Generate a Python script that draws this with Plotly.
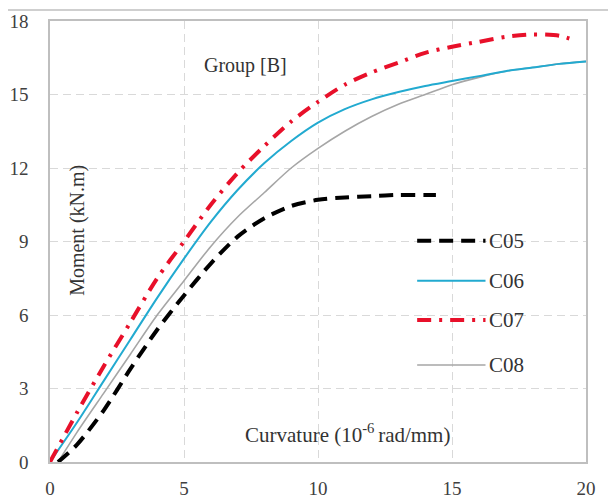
import plotly.graph_objects as go

# ---- data ----
x_c05 = [0.3, 1, 2, 3, 4, 5, 6, 7, 8, 9, 10, 11, 12, 13, 14, 14.4]
y_c05 = [0.0, 0.7, 2.1, 3.8, 5.4, 6.8, 8.1, 9.2, 9.95, 10.45, 10.7, 10.8, 10.85, 10.9, 10.9, 10.9]

x_c06 = [0, 1, 2, 3, 4, 5, 6, 7, 8, 9, 10, 11, 12, 13, 14, 15, 16, 17, 18, 19, 20]
y_c06 = [0.0, 1.6, 3.3, 5.0, 6.7, 8.3, 9.8, 11.1, 12.2, 13.1, 13.85, 14.4, 14.8, 15.1, 15.35, 15.55, 15.75, 15.95, 16.1, 16.25, 16.35]

x_c07 = [0, 1, 2, 3, 4, 5, 6, 7, 8, 9, 10, 11, 12, 13, 14, 15, 16, 17, 18, 19, 19.6]
y_c07 = [0.0, 2.0, 3.9, 5.7, 7.5, 9.0, 10.5, 11.8, 12.9, 13.9, 14.7, 15.4, 15.9, 16.3, 16.7, 16.95, 17.15, 17.35, 17.45, 17.4, 17.2]

x_c08 = [0.3, 1, 2, 3, 4, 5, 6, 7, 8, 9, 10, 11, 12, 13, 14, 15, 16, 17, 18, 19, 20]
y_c08 = [0.0, 1.2, 2.8, 4.4, 6.0, 7.4, 8.8, 10.0, 11.0, 12.0, 12.8, 13.5, 14.1, 14.6, 15.0, 15.4, 15.7, 15.95, 16.1, 16.25, 16.35]

series_names = ["C05", "C06", "C07", "C08"]
x_ticks = [0, 5, 10, 15, 20]
y_ticks = [0, 3, 6, 9, 12, 15, 18]

FONT = "'Liberation Serif', 'Times New Roman', Times, serif"
styles = {
    "C05": dict(color="#000000", width=4, dash="14px,8px"),
    "C06": dict(color="#22aad0", width=2, dash="solid"),
    "C07": dict(color="#e8102a", width=4, dash="14px,8px,3px,8px"),
    "C08": dict(color="#a6a6a6", width=1.6, dash="solid"),
}
data = {"C05": (x_c05, y_c05), "C06": (x_c06, y_c06), "C07": (x_c07, y_c07), "C08": (x_c08, y_c08)}

fig = go.Figure()
for name in ["C08", "C06", "C05", "C07"]:
    xs, ys = data[name]
    fig.add_trace(go.Scatter(x=xs, y=ys, mode="lines", name=name,
                             line=dict(shape="spline", smoothing=0.8, **styles[name]),
                             showlegend=False))

# custom legend (samples + labels)
leg_y = {"C05": 9.03, "C06": 7.4, "C07": 5.8, "C08": 3.96}
for name in series_names:
    st = styles[name]
    fig.add_shape(type="line", xref="x", yref="y", x0=13.7, x1=16.25, y0=leg_y[name], y1=leg_y[name],
                  line=dict(color=st["color"], width=st["width"], dash=st["dash"]))
    fig.add_annotation(x=16.3, y=leg_y[name], xref="x", yref="y", text=name, showarrow=False,
                       xanchor="left", yanchor="middle", font=dict(family=FONT, size=21, color="#333333"))

fig.add_annotation(x=7.28, y=16.2, xref="x", yref="y", text="Group [B]", showarrow=False,
                   font=dict(family=FONT, size=20, color="#333333"))
fig.add_annotation(x=1.04, y=9.47, xref="x", yref="y", text="Moment (kN.m)", showarrow=False,
                   textangle=-90, font=dict(family=FONT, size=20, color="#333333"))
fig.add_annotation(x=11.1, y=1.18, xref="x", yref="y", text="Curvature (10<sup>-6 </sup>rad/mm)",
                   showarrow=False, font=dict(family=FONT, size=21, color="#333333"))

# outer frame
fig.add_shape(type="rect", xref="paper", yref="paper", x0=-0.0858, x1=1.0504, y0=-0.2, y1=1.025,
              line=dict(color="#cfcfcf", width=2), layer="above")

fig.update_layout(
    width=608, height=490,
    margin=dict(l=42, r=30, t=13, b=36, autoexpand=False),
    paper_bgcolor="white", plot_bgcolor="white",
    font=dict(family=FONT, size=19, color="#404040"),
)
fig.update_xaxes(range=[0, 20], tickvals=x_ticks, showgrid=True, gridcolor="#d9d9d9", griddash="8px,5px",
                 gridwidth=1, zeroline=False, showline=True, linecolor="#bfbfbf", linewidth=1.5,
                 mirror=True, ticks="", ticklabelstandoff=8, automargin=False)
fig.update_yaxes(range=[0, 18], tickvals=y_ticks, showgrid=True, gridcolor="#d9d9d9", griddash="8px,5px",
                 gridwidth=1, zeroline=False, showline=True, linecolor="#bfbfbf", linewidth=1.5,
                 mirror=True, ticks="", ticklabelstandoff=16, automargin=False)

fig.write_html("out.html")
